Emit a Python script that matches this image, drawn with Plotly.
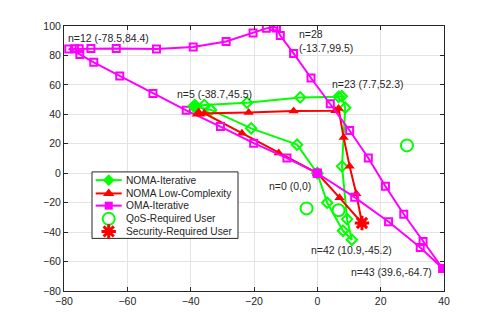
import plotly.graph_objects as go

# trajectory
noma_x = [0, -6.4, -20.9, -33.6, -38.7, -35.7, -22.2, -5.4, 6.7, 7.7, 8.8, 7.8, 9.4, 10.9, 8.1, 3.1, 0]
noma_y = [0, 19.4, 30.5, 43.0, 45.5, 46.3, 47.9, 51.5, 51.9, 52.3, 44.5, 4.7, -31.2, -45.2, -39.1, -20.0, 0]

lowc_x = [0, -12.2, -23.8, -35.7, -37.5, -21.7, -7.5, 5.7, 6.7, 8.3, 10.2, 12.3, 14.1, 7.0, 0]
lowc_y = [0, 13.7, 27.2, 40.7, 40.5, 41.3, 42.3, 42.5, 44.0, 24.3, 4.7, -14.0, -33.8, -16.6, 0]

oma_x = [0, -9.6, -20.1, -30.6, -41.4, -51.9, -62.4, -70.6, -75.0, -78.5, -76.7, -75.2, -71.5, -63.5,
         -50.8, -39.2, -28.8, -20.3, -16.1, -13.7, -12.9, -11.7, -7.5, -2.0, 4.1, 10.2, 16.1, 21.5,
         27.3, 33.4, 39.6, 32.5, 22.5, 11.8, 0]
oma_y = [0, 10.3, 20.4, 31.7, 42.7, 54.2, 66.1, 75.3, 80.7, 84.4, 84.5, 84.5, 84.8, 84.8,
         84.3, 85.8, 89.5, 95.3, 98.4, 99.5, 98.7, 93.5, 81.4, 64.7, 47.2, 29.0, 10.3, -8.8,
         -27.9, -46.3, -64.7, -50.4, -33.0, -16.4, 0]

qos_x = [28.3, -3.4, 6.7]
qos_y = [18.9, -23.9, -25.2]

sec_x = [14.1]
sec_y = [-33.8]

labels = ["n=12 (-78.5,84.4)", "n=28", "(-13.7,99.5)", "n=23 (7.7,52.3)", "n=5 (-38.7,45.5)",
          "n=0 (0,0)", "n=42 (10.9,-45.2)", "n=43 (39.6,-64.7)"]
label_x = [-79.3, -6.4, -6.4, 3.9, -44.8, -15.9, -2.7, 9.9]
label_y = [92.0, 94.6, 85.2, 60.9, 54.1, -8.8, -52.1, -67.2]

legend_names = ["NOMA-Iterative", "NOMA Low-Complexity", "OMA-Iterative",
                "QoS-Required User", "Security-Required User"]

GREEN = "#00ff00"
RED = "#ff0000"
MAGENTA = "#ff00ff"
INK = "#262626"

styles = [
    dict(line=True, color=GREEN, marker=dict(symbol="diamond", size=9, color=GREEN)),
    dict(line=True, color=RED, marker=dict(symbol="triangle-up", size=10, color=RED)),
    dict(line=True, color=MAGENTA, marker=dict(symbol="square", size=8, color=MAGENTA)),
    dict(line=False, color=GREEN, marker=dict(symbol="circle-open", size=12, color=GREEN, line=dict(width=2))),
    dict(line=False, color=RED, marker=dict(symbol="asterisk-open", size=12, color=RED,
                                            line=dict(width=3, color=RED))),
]

fig = go.Figure()

fig.add_trace(go.Scatter(
    x=noma_x, y=noma_y, mode="lines+markers", name="NOMA-Iterative",
    line=dict(color=GREEN, width=2),
    marker=dict(symbol="diamond-open", size=8, color=GREEN, line=dict(width=2)),
))
fig.add_trace(go.Scatter(
    x=lowc_x, y=lowc_y, mode="lines+markers", name="NOMA Low-Complexity",
    line=dict(color=RED, width=2),
    marker=dict(symbol="triangle-up", size=9, color=RED),
))
fig.add_trace(go.Scatter(
    x=oma_x, y=oma_y, mode="lines+markers", name="OMA-Iterative",
    line=dict(color=MAGENTA, width=2),
    marker=dict(symbol="square-open", size=7, color=MAGENTA, line=dict(width=2)),
))
fig.add_trace(go.Scatter(
    x=qos_x, y=qos_y, mode="markers", name="QoS-Required User",
    marker=dict(symbol="circle-open", size=12, color=GREEN, line=dict(width=2)),
))
fig.add_trace(go.Scatter(
    x=sec_x, y=sec_y, mode="markers", name="Security-Required User",
    marker=dict(symbol="asterisk-open", size=12, color=RED, line=dict(width=3, color=RED)),
))

# filled start / end markers
fig.add_trace(go.Scatter(
    x=[noma_x[4]], y=[noma_y[4]], mode="markers",
    marker=dict(symbol="diamond", size=12, color=GREEN),
))
fig.add_trace(go.Scatter(
    x=[lowc_x[4]], y=[lowc_y[4]], mode="markers",
    marker=dict(symbol="triangle-up", size=12, color=RED),
))
fig.add_trace(go.Scatter(
    x=[oma_x[0], oma_x[30]], y=[oma_y[0], oma_y[30]], mode="markers",
    marker=dict(symbol="square", size=9, color=MAGENTA),
))

for t, lx, ly in zip(labels, label_x, label_y):
    fig.add_annotation(x=lx, y=ly, text=t, showarrow=False, xanchor="left",
                       yanchor="middle", font=dict(size=10.5, color=INK))

# matlab-like legend box, drawn on an overlay axis laid out in pixels
lg_left, lg_right, lg_top, lg_bottom = 92, 238, 171, 238
fig.add_trace(go.Scatter(
    x=[lg_left, lg_right, lg_right, lg_left, lg_left],
    y=[lg_top, lg_top, lg_bottom, lg_bottom, lg_top],
    xaxis="x2", yaxis="y2", mode="lines", fill="toself", fillcolor="white",
    line=dict(color=INK, width=1), hoverinfo="skip",
))
row_y = [179.3, 192.7, 205.0, 218.3, 231.0]
for name, st, ry in zip(legend_names, styles, row_y):
    if st["line"]:
        fig.add_trace(go.Scatter(
            x=[95.7, 121.7], y=[ry, ry], xaxis="x2", yaxis="y2", mode="lines",
            line=dict(color=st["color"], width=2), hoverinfo="skip",
        ))
    fig.add_trace(go.Scatter(
        x=[108.7], y=[ry], xaxis="x2", yaxis="y2", mode="markers",
        marker=st["marker"], hoverinfo="skip",
    ))
    fig.add_annotation(x=123.5, y=ry, xref="x2", yref="y2", text=name, showarrow=False,
                       xanchor="left", yanchor="middle", font=dict(size=10.2, color=INK))

axis_style = dict(
    showgrid=True, gridcolor="#e3e3e3", gridwidth=1,
    showline=True, linecolor=INK, linewidth=1, mirror="ticks",
    ticks="inside", ticklen=4, tickcolor=INK,
    zeroline=False, tickfont=dict(size=10.5, color=INK),
)

fig.update_xaxes(range=[-80, 40], tickvals=list(range(-80, 41, 20)), **axis_style)
fig.update_yaxes(range=[-80, 100], tickvals=list(range(-80, 101, 20)), **axis_style)

fig.update_layout(
    width=491, height=327,
    margin=dict(l=56, r=55, t=16, b=44),
    plot_bgcolor="white", paper_bgcolor="white",
    font=dict(family="Liberation Sans, Arial, sans-serif", size=10, color=INK),
    showlegend=False,
    xaxis2=dict(overlaying="x", anchor="y2", range=[64, 444], visible=False, fixedrange=True),
    yaxis2=dict(overlaying="y", anchor="x2", range=[291, 24], visible=False, fixedrange=True),
)

fig.write_html("out.html")
